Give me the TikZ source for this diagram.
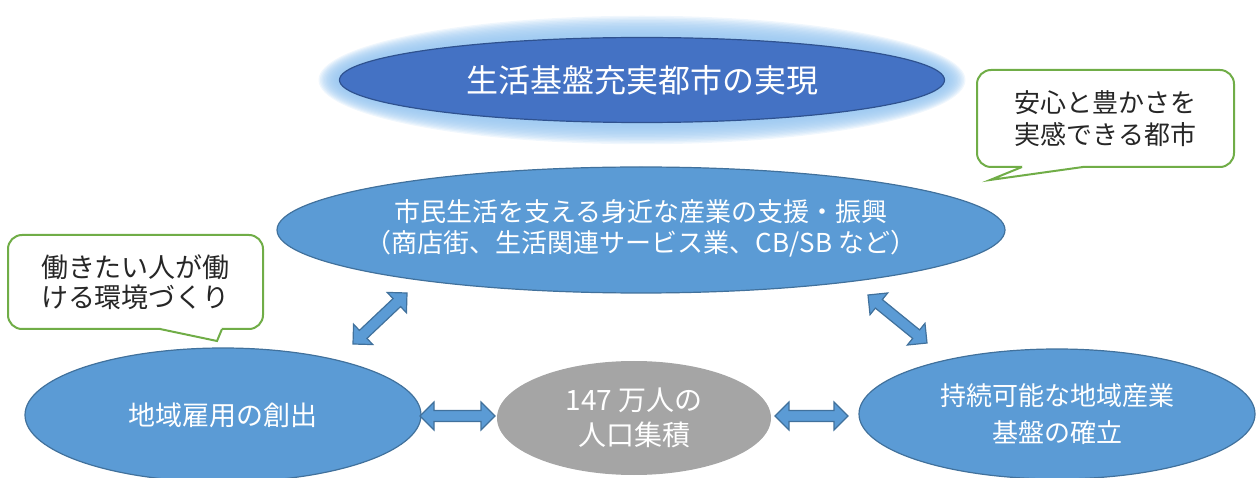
\documentclass[tikz,border=0pt]{standalone}
\usepackage{fontspec}
\newfontfamily\jp{Noto Sans CJK JP}
\usetikzlibrary{shapes.geometric,calc}
\definecolor{topfill}{HTML}{4472C4}
\definecolor{topline}{HTML}{2F528F}
\definecolor{bluefill}{HTML}{5B9BD5}
\definecolor{blueline}{HTML}{41719C}
\definecolor{grayfill}{HTML}{A5A5A5}
\definecolor{calloutline}{HTML}{70AD47}
\definecolor{glowc}{HTML}{96C5F0}
\newcommand\blockarrow[2]{%
  \draw[barrow] (#1)
    -- ($(#1)!14pt!(#2)!14pt!90:(#2)$)
    -- ($(#1)!14pt!(#2)!5.5pt!90:(#2)$)
    -- ($(#2)!14pt!(#1)!5.5pt!-90:(#1)$)
    -- ($(#2)!14pt!(#1)!14pt!-90:(#1)$)
    -- (#2)
    -- ($(#2)!14pt!(#1)!14pt!90:(#1)$)
    -- ($(#2)!14pt!(#1)!5.5pt!90:(#1)$)
    -- ($(#1)!14pt!(#2)!5.5pt!-90:(#2)$)
    -- ($(#1)!14pt!(#2)!14pt!-90:(#2)$)
    -- cycle;}
\tikzset{
  jpbase/.style={font=\jp\fontsize{27}{31}\selectfont, align=center},
  goalell/.style={ellipse, fill=topfill, draw=topline, line width=1.2pt, text=white, inner sep=0pt, font=\jp\fontsize{32}{36}\selectfont},
  blueell/.style={ellipse, fill=bluefill, draw=blueline, line width=1.2pt, text=white, inner sep=0pt, jpbase},
  grayell/.style={ellipse, fill=grayfill, text=white, inner sep=0pt, jpbase},
  plaintext/.style={text=white, inner sep=0pt, jpbase},
  callbox/.style={rectangle, rounded corners=14pt, draw=calloutline, line width=2pt, fill=white, text=black!85, inner sep=0pt, jpbase},
  barrow/.style={fill=bluefill, draw=blueline, line width=1.2pt, line join=miter},
}
\begin{document}
\begin{tikzpicture}[x=1pt,y=-1pt]
\useasboundingbox (0,0) rectangle (1256,478);
\clip (0,0) rectangle (1256,478);
% glow around the goal ellipse
\foreach \d in {1,...,15}
  \fill[glowc, opacity=0.14] (642,80) ellipse [x radius={302.5+\d*1.4}, y radius={42.5+\d*1.45}];
\node[goalell, minimum width=605pt, minimum height=85pt] (goal) at (642,80) {生活基盤充実都市の実現};

% middle ellipse
\node[blueell, minimum width=728pt, minimum height=126pt] (mid) at (641,230) {};
\node[plaintext, font=\jp\fontsize{26}{31}\selectfont] (midtext) at (641,228)
  {市民生活を支える身近な産業の支援・振興\\（商店街、生活関連サービス業、CB/SB など）};

% bottom ellipses
\node[blueell, minimum width=396pt, minimum height=134pt] (left) at (223,415) {地域雇用の創出};
\node[grayell, minimum width=274pt, minimum height=114pt, font=\jp\fontsize{28}{35}\selectfont] (pop) at (634,418) {147 万人の\\人口集積};
\node[blueell, minimum width=396pt, minimum height=130pt, font=\jp\fontsize{26}{37}\selectfont] (right) at (1057,414) {持続可能な地域産業\\基盤の確立};

% callouts
\node[callbox, minimum width=257pt, minimum height=97pt, font=\jp\fontsize{26}{32}\selectfont] (rcall) at (1105.5,118.5) {安心と豊かさを\\実感できる都市};
\fill[white] (1023,164) -- (1022,167) -- (990,180) -- (1083,167) -- (1082,164) -- cycle;
\draw[calloutline, line width=2pt, line join=miter] (1022,167) -- (990,180) -- (1083,167);

\node[callbox, minimum width=255pt, minimum height=94pt, font=\jp\fontsize{27}{30}\selectfont] (lcall) at (135.5,282) {働きたい人が働\\ける環境づくり};
\fill[white] (161,326) -- (160,329) -- (217,341) -- (222,329) -- (221,326) -- cycle;
\draw[calloutline, line width=2pt, line join=miter] (160,329) -- (217,341) -- (222,329);

% arrow end points
\coordinate (a1s) at (353,344);
\coordinate (a1e) at (407,293);
\coordinate (a2s) at (868,295);
\coordinate (a2e) at (927,343);
\coordinate (a3s) at (420,416);
\coordinate (a3e) at (495,416);
\coordinate (a4s) at (775,416);
\coordinate (a4e) at (848,416);
\blockarrow{a1s}{a1e}
\blockarrow{a2s}{a2e}
\blockarrow{a3s}{a3e}
\blockarrow{a4s}{a4e}
\end{tikzpicture}
\end{document}
